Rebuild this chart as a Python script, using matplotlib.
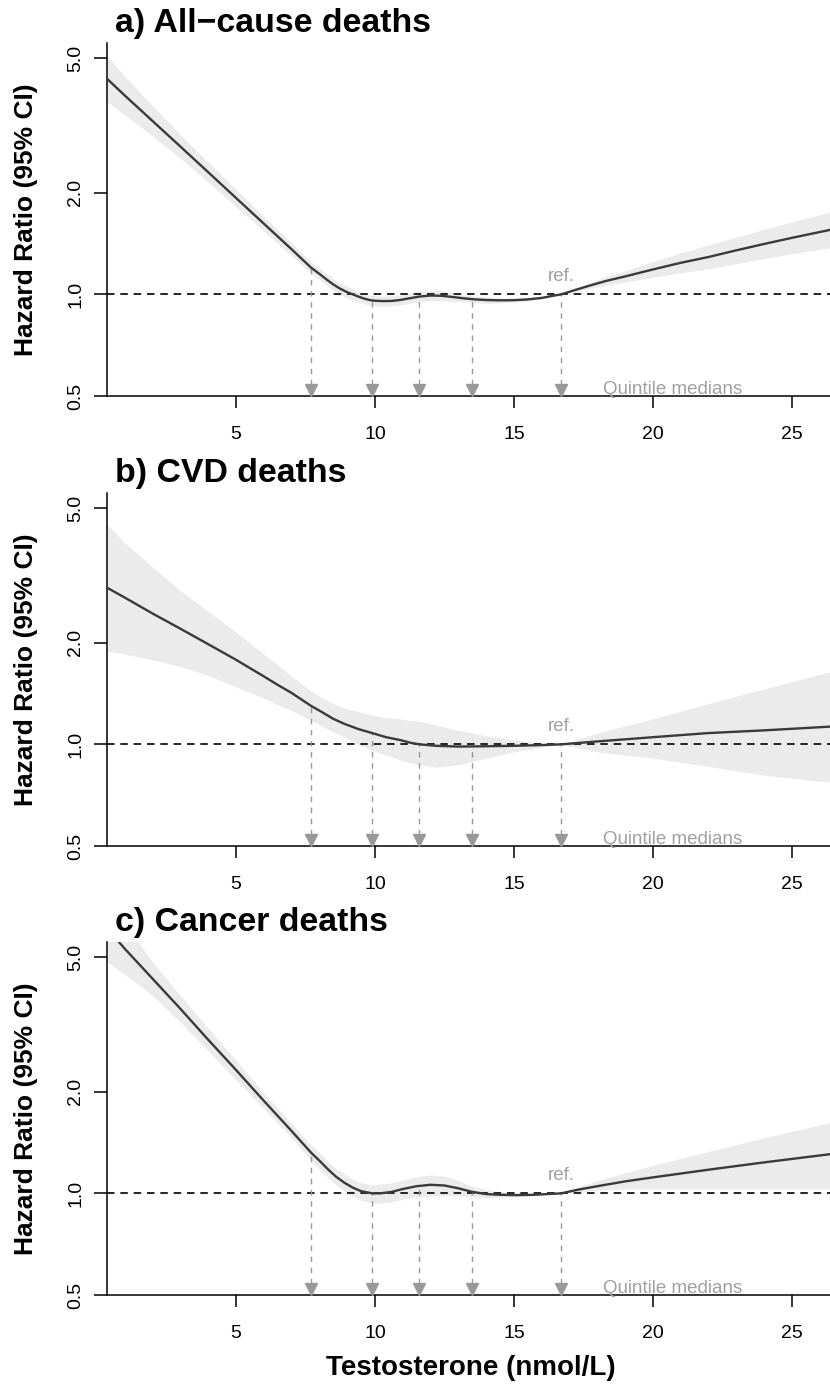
import numpy as np
import matplotlib.pyplot as plt
from matplotlib.transforms import ScaledTranslation

plt.rcParams['font.family'] = ['Liberation Sans', 'DejaVu Sans']

# quintile medians of testosterone (nmol/L), last one is the reference
quint = [7.7, 9.9, 11.6, 13.5, 16.7]

# a) all-cause deaths
x_a = [0.36, 1, 2, 3, 4, 5, 6, 7, 7.7, 8.0, 8.3, 8.5, 8.74, 9.0, 9.2, 9.4, 9.6,
       9.8, 10.0, 10.3, 10.6, 10.9, 11.2, 11.6, 12.0, 12.4, 12.8, 13.2, 13.6,
       14.0, 14.5, 15.0, 15.5, 16.0, 16.4, 16.7, 17.2, 17.7, 18.3, 19, 20, 21,
       22, 23, 24, 25, 26.5]
hr_a = [4.35, 3.88, 3.26, 2.74, 2.30, 1.93, 1.62, 1.36, 1.20, 1.15, 1.10, 1.07,
        1.04, 1.015, 1.0, 0.985, 0.972, 0.962, 0.957, 0.955, 0.956, 0.962,
        0.972, 0.985, 0.992, 0.99, 0.982, 0.973, 0.966, 0.962, 0.96, 0.961,
        0.966, 0.976, 0.99, 1.0, 1.03, 1.06, 1.095, 1.13, 1.185, 1.24, 1.29,
        1.35, 1.41, 1.47, 1.56]
lo_a = [3.72, 3.40, 2.94, 2.53, 2.15, 1.82, 1.54, 1.30, 1.154, 1.106, 1.058,
        1.029, 1.0, 0.976, 0.962, 0.952, 0.939, 0.929, 0.925, 0.923, 0.924,
        0.929, 0.939, 0.952, 0.958, 0.957, 0.953, 0.952, 0.945, 0.941, 0.943,
        0.948, 0.956, 0.970, 0.987, 1.0, 1.020, 1.039, 1.063, 1.087, 1.123,
        1.159, 1.189, 1.233, 1.276, 1.318, 1.381]
hi_a = [5.09, 4.42, 3.62, 2.97, 2.46, 2.05, 1.70, 1.42, 1.248, 1.196, 1.144,
        1.113, 1.082, 1.056, 1.04, 1.019, 1.006, 0.996, 0.990, 0.988, 0.989,
        0.996, 1.006, 1.019, 1.027, 1.025, 1.011, 0.994, 0.987, 0.983, 0.977,
        0.974, 0.976, 0.982, 0.993, 1.0, 1.040, 1.081, 1.128, 1.175, 1.250,
        1.327, 1.400, 1.478, 1.558, 1.639, 1.763]

# b) CVD deaths
x_b = [0.36, 1, 2, 3, 4, 5, 6, 6.5, 7, 7.4, 7.7, 8.1, 8.5, 8.9, 9.4, 9.9,
       10.4, 10.9, 11.3, 11.6, 12.2, 13.0, 14.0, 15.0, 16.0, 16.7, 18, 20,
       22, 24, 26.5]
hr_b = [2.91, 2.72, 2.44, 2.20, 1.98, 1.78, 1.59, 1.50, 1.42, 1.35, 1.30,
        1.245, 1.19, 1.15, 1.11, 1.08, 1.05, 1.03, 1.01, 1.0, 0.99, 0.985,
        0.987, 0.99, 0.995, 1.0, 1.02, 1.05, 1.08, 1.10, 1.13]
lo_b = [1.89, 1.85, 1.78, 1.70, 1.60, 1.48, 1.37, 1.31, 1.26, 1.21, 1.18,
        1.13, 1.09, 1.05, 1.0, 0.96, 0.93, 0.90, 0.88, 0.87, 0.855, 0.87,
        0.91, 0.95, 0.98, 1.0, 0.95, 0.91, 0.86, 0.81, 0.77]
hi_b = [4.48, 3.95, 3.35, 2.85, 2.48, 2.15, 1.85, 1.72, 1.59, 1.50, 1.44,
        1.37, 1.32, 1.28, 1.25, 1.22, 1.20, 1.19, 1.175, 1.17, 1.14, 1.10,
        1.06, 1.03, 1.01, 1.0, 1.08, 1.19, 1.32, 1.46, 1.65]

# c) cancer deaths
x_c = [0.36, 1, 2, 3, 4, 5, 6, 7, 7.7, 8.0, 8.3, 8.6, 8.9, 9.2, 9.5, 9.9,
       10.2, 10.6, 11.0, 11.5, 12.0, 12.5, 13.0, 13.5, 14.0, 14.5, 15.1,
       15.7, 16.2, 16.7, 17.3, 18, 19, 20, 22, 24, 26.5]
hr_c = [6.1, 5.3, 4.32, 3.52, 2.85, 2.32, 1.88, 1.53, 1.32, 1.25, 1.18, 1.12,
        1.075, 1.04, 1.015, 1.0, 1.0, 1.01, 1.03, 1.05, 1.06, 1.055, 1.035,
        1.01, 0.995, 0.99, 0.988, 0.99, 0.995, 1.0, 1.025, 1.05, 1.085, 1.115,
        1.175, 1.235, 1.31]
lo_c = [4.85, 4.45, 3.86, 3.21, 2.64, 2.17, 1.78, 1.46, 1.25, 1.18, 1.115,
        1.06, 1.015, 0.98, 0.955, 0.935, 0.935, 0.945, 0.96, 0.975, 0.98,
        0.985, 0.985, 0.975, 0.97, 0.972, 0.978, 0.985, 0.992, 1.0, 1.01,
        1.02, 1.03, 1.03, 1.03, 1.03, 1.03]
hi_c = [7.6, 6.3, 4.84, 3.85, 3.08, 2.48, 1.98, 1.61, 1.39, 1.32, 1.245,
        1.185, 1.14, 1.10, 1.075, 1.06, 1.065, 1.075, 1.095, 1.12, 1.135,
        1.125, 1.09, 1.05, 1.025, 1.012, 1.003, 1.0, 1.0, 1.0, 1.045, 1.09,
        1.15, 1.21, 1.33, 1.46, 1.63]

titles = ["a) All\u2212cause deaths", "b) CVD deaths", "c) Cancer deaths"]
yticks = [0.5, 1, 2, 5]
ytick_labels = ["0.5", "1.0", "2.0", "5.0"]
xticks = [5, 10, 15, 20, 25]

panels = [(x_a, hr_a, lo_a, hi_a), (x_b, hr_b, lo_b, hi_b), (x_c, hr_c, lo_c, hi_c)]
bottoms = [1 - 396/1384, 1 - 846/1384, 1 - 1295/1384]
ax_h = 353/1384
ax_l = 107/830

fig = plt.figure(figsize=(8.3, 13.84), dpi=100)

for (x, hr, lo, hi), title, b in zip(panels, titles, bottoms):
    ax = fig.add_axes([ax_l, b, 1 - ax_l, ax_h])
    ax.set_yscale('log')

    ax.fill_between(x, lo, hi, color='#ebebeb', lw=0)
    ax.axhline(1, color='black', lw=1.2, ls=(0, (4.5, 3.5)), zorder=2)

    # dashed drops from the curve down to the quintile arrows
    q_hr = np.exp(np.interp(quint, x, np.log(hr)))
    ax.vlines(quint, 0.5, q_hr, colors='#999999', lw=1, linestyles=(0, (4, 4)), zorder=2)
    up = ScaledTranslation(0, 4.3/72, fig.dpi_scale_trans)
    ax.plot(quint, [0.5]*len(quint), 'v', ms=9, color='#999999',
            transform=ax.transData + up, clip_on=False, zorder=3)

    ax.plot(x, hr, color='#3a3a3a', lw=1.7, zorder=4)

    ax.annotate('ref.', xy=(quint[-1], 1), xytext=(0, 12.5), textcoords='offset points',
                ha='center', va='center', color='#a0a0a0', fontsize=13.5)
    ax.annotate('Quintile medians', xy=(18.2, 0.5), xytext=(0, 1.5), textcoords='offset points',
                ha='left', va='baseline', color='#a0a0a0', fontsize=13.5)

    ax.set_xlim(0.36, 26.37)
    ax.set_ylim(0.5, 5.55)
    ax.set_yticks(yticks, ytick_labels, rotation=90, va='center')
    ax.minorticks_off()
    ax.set_xticks(xticks)
    ax.tick_params(axis='y', length=9.4, width=1.1, labelsize=14, pad=7)
    ax.tick_params(axis='x', length=8.6, width=1.1, labelsize=14, pad=13)
    for s in ['top', 'right']:
        ax.spines[s].set_visible(False)
    for s in ['left', 'bottom']:
        ax.spines[s].set_linewidth(1.1)

    ax.annotate(title, xy=(0, 1), xycoords='axes fraction', xytext=(6, 8),
                textcoords='offset points', ha='left', va='baseline',
                fontsize=24.4, fontweight='bold')
    fig.text(26/830, b + ax_h/2, 'Hazard Ratio (95% CI)', rotation=90,
             ha='center', va='center', fontsize=19, fontweight='bold')

fig.text(471/830, 1 - 1368/1384, 'Testosterone (nmol/L)', ha='center', va='center',
         fontsize=20, fontweight='bold')

fig.savefig('out.png', dpi=100)
